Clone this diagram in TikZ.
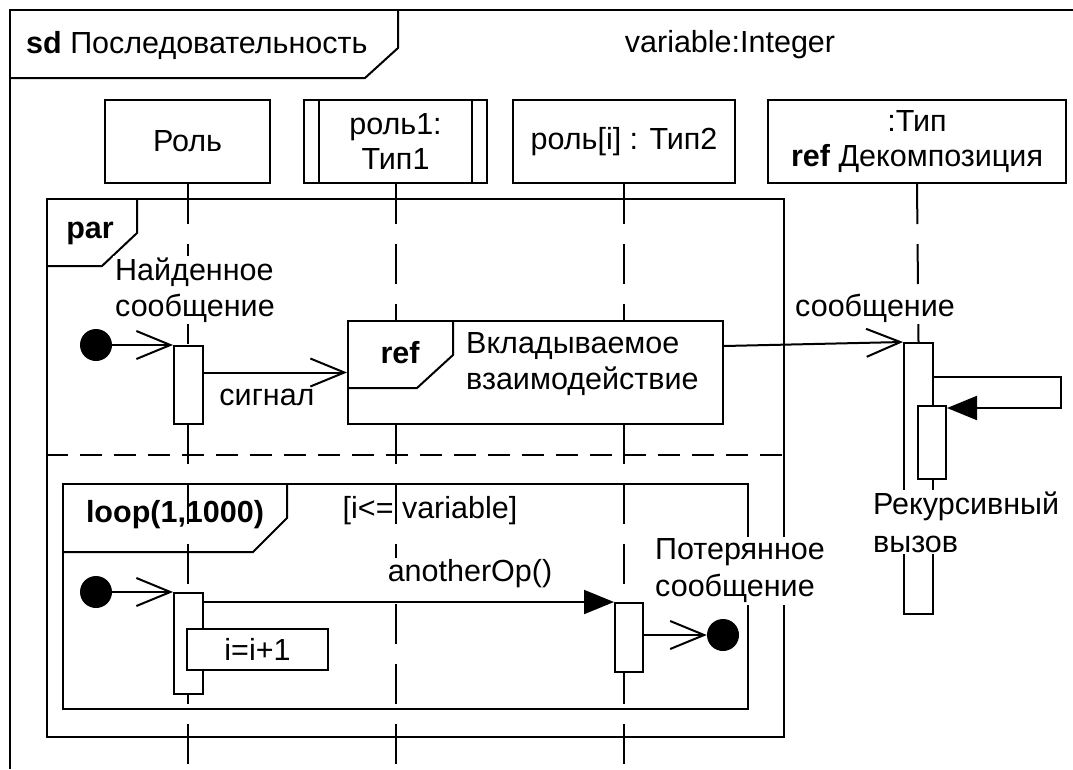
\documentclass[tikz,border=0pt]{standalone}
\usepackage{fontspec}
\setmainfont{Liberation Sans}
\usetikzlibrary{arrows.meta,calc}
\begin{document}
\begin{tikzpicture}[x=1pt,y=-1pt,
  every node/.style={font=\fontsize{30.5}{35.5}\selectfont, inner sep=0pt},
  ln/.style={line width=2pt},
  box/.style={draw, line width=2pt, fill=white, rectangle, align=center, inner sep=0pt},
  frm/.style={draw, line width=2pt, rectangle, anchor=north west, inner sep=0pt},
  act/.style={draw, line width=2pt, fill=white, rectangle, anchor=north west, inner sep=0pt},
  life/.style={line width=2pt, dash pattern=on 40pt off 20pt},
  dotn/.style={circle, fill=black, minimum size=32pt, inner sep=0pt},
  lbl/.style={fill=white, align=left, inner sep=2pt},
  opn/.style={line width=2pt, -{Straight Barb[length=34pt,width=28pt,line width=2pt]}},
  syn/.style={line width=2pt, -{Triangle[length=30pt,width=24pt]}},
]
\useasboundingbox (0,0) rectangle (1073,769);
\fill[white] (0,0) rectangle (1073,769);
\coordinate (bot) at (0,769);
\coordinate (sep) at (0,455);

% outer frame
\draw[ln] (10,769) -- (10,10) -- (1073,10);
\draw[ln] (10,78) -- (365,78) -- (398,48) -- (398,10);
\node[anchor=west] (sdl) at (26,45) {\textbf{sd} Последовательность};
\node (var) at (730,45) {variable:Integer};

% heads
\node[box, minimum width=165pt, minimum height=83pt] (hR) at (187.5,141.5) {Роль};
\node[box, minimum width=183pt, minimum height=83pt] (hR1) at (395.5,141.5) {роль1:\\Тип1};
\draw[ln] ([xshift=16pt]hR1.north west) -- ([xshift=16pt]hR1.south west);
\draw[ln] ([xshift=-16pt]hR1.north east) -- ([xshift=-16pt]hR1.south east);
\node[box, minimum width=222pt, minimum height=83pt] (hR2) at (624,141.5) {роль[i] : Тип2};
\node[box, minimum width=298pt, minimum height=83pt] (hT) at (917,141.5) {:Тип\\\textbf{ref} Декомпозиция};

% activation on :Тип (needed for lifeline end)
\node[act, minimum width=29pt, minimum height=271pt] (aT) at (903,342) {};

% lifelines
\draw[life] (hR.south) -- (hR.south |- bot);
\draw[life] (hR1.south) -- (hR1.south |- bot);
\draw[life] (hR2.south) -- (hR2.south |- bot);
\draw[life] (hT.south) -- (aT.north);

% par frame
\node[frm, minimum width=737pt, minimum height=538pt] (par) at (46,198) {};
\draw[ln] ($(par.north west)+(0,68)$) -- ++(56,0) -- ++(35,-33) -- ++(0,-35);
\node (parl) at ($(par.north west)+(44,35)$) {\bfseries par};
\draw[ln, dash pattern=on 22pt off 12pt] (par.west |- sep) -- (par.east |- sep);

% loop frame
\node[frm, minimum width=685pt, minimum height=225pt] (loop) at (62,483) {};
\draw[ln] ($(loop.north west)+(225,0)$) -- ++(0,35) -- ++(-34,34) -- ++(-191,0);
\node (loopl) at (175,515) {\bfseries loop(1,1000)};
\node (guard) at (430,511) {[i<= variable]};

% ref
\node[frm, fill=white, minimum width=375pt, minimum height=103pt] (ref) at (347,320) {};
\draw[ln] ($(ref.north west)+(106,0)$) -- ++(0,35) -- ++(-36,33) -- ++(-70,0);
\node (refl) at (400,353) {\bfseries ref};
\node[anchor=west, align=left] (refx) at (466,364) {Вкладываемое\\взаимодействие};

% labels covering lifelines
\node[lbl, anchor=west] (foundl) at (113,290) {Найденное\\сообщение};
\node[lbl] (msgl) at (875,308) {сообщение};
\node[lbl] (opl) at (470,574) {anotherOp()};

% par region 1
\node[dotn] (d1) at (96,345) {};
\node[act, minimum width=29pt, minimum height=78pt] (a1) at (173,345) {};
\draw[opn] (d1) -- (a1.north west);
\draw[opn] (a1.east |- ref.west) -- (ref.west);
\node (sigl) at (267,397) {сигнал};
\draw[opn] ($(ref.north east)+(0,26)$) -- (aT.north west);

% recursion
\node[act, minimum width=28pt, minimum height=73pt] (aT2) at (917,405) {};
\draw[syn] ($(aT.north east)+(0,35)$) -- ++(127,0) -- ++(0,31) -- ($(aT2.north east)+(0,3)$);
\node[lbl, anchor=west, font=\fontsize{30.5}{38}\selectfont] (recl) at (871,522) {Рекурсивный\\вызов};

% loop region
\node[dotn] (d2) at (96,592) {};
\node[act, minimum width=29pt, minimum height=101pt] (a2) at (173,592) {};
\draw[opn] (d2) -- (a2.north west);
\node[box, minimum width=141pt, minimum height=41pt] (inc) at (257.5,649.5) {i=i+1};
\node[act, minimum width=28pt, minimum height=69pt] (a3) at (614,602) {};
\draw[syn] ($(a2.north east)+(0,10)$) -- (a3.north west);
\node[dotn] (d3) at (723,635) {};
\draw[opn] (a3.east |- d3) -- (d3);
\node[lbl, anchor=west, font=\fontsize{30.5}{37}\selectfont] (lostl) at (653,571) {Потерянное\\сообщение};
\end{tikzpicture}
\end{document}
